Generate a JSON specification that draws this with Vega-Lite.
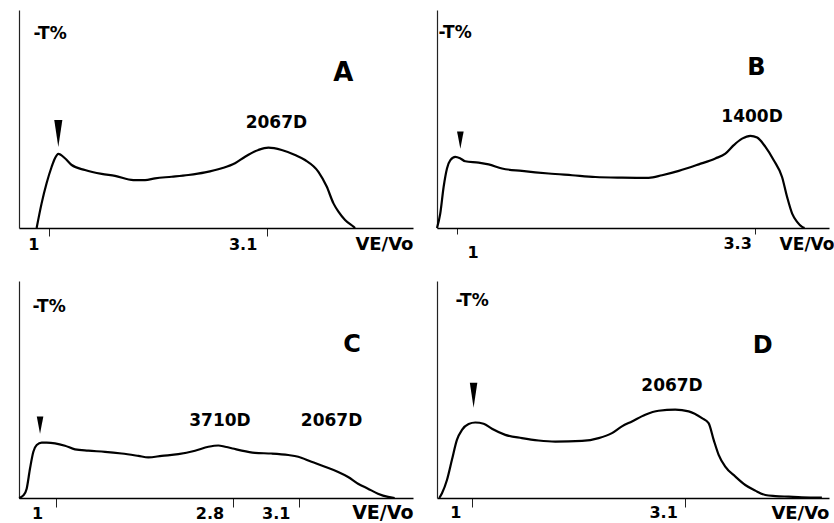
{
  "$schema": "https://vega.github.io/schema/vega-lite/v6.json",
  "background": "white",
  "padding": {"left": 14, "top": 10, "right": 2, "bottom": 0},
  "bounds": "flush",
  "columns": 2,
  "spacing": {"row": 53, "column": 24},
  "config": {
    "view": {"stroke": null},
    "font": "DejaVu Sans",
    "axis": {"labelFont": "DejaVu Sans", "titleFont": "DejaVu Sans", "labelFontWeight": "bold", "titleFontWeight": "bold", "labelColor": "black", "titleColor": "black", "grid": false, "domainColor": "black", "tickColor": "#222", "labelOverlap": false, "labelFlush": false},
    "text": {"font": "DejaVu Sans", "fontWeight": "bold", "color": "black"}
  },
  "datasets": {
    "curveA": [
      {"ve": 0.881, "t": 0}, {"ve": 0.929, "t": 11.3}, {"ve": 0.977, "t": 20.5}, {"ve": 1.026, "t": 28.1}, {"ve": 1.058, "t": 32.0}, {"ve": 1.09, "t": 34.0}, {"ve": 1.154, "t": 32.0}, {"ve": 1.219, "t": 28.9}, {"ve": 1.347, "t": 26.6}, {"ve": 1.508, "t": 24.8}, {"ve": 1.637, "t": 23.9}, {"ve": 1.814, "t": 22.0}, {"ve": 1.926, "t": 22.0}, {"ve": 2.023, "t": 22.8}, {"ve": 2.183, "t": 23.5}, {"ve": 2.344, "t": 24.3}, {"ve": 2.505, "t": 25.5}, {"ve": 2.666, "t": 27.4}, {"ve": 2.794, "t": 29.7}, {"ve": 2.891, "t": 32.7}, {"ve": 3.019, "t": 35.8}, {"ve": 3.116, "t": 36.9}, {"ve": 3.244, "t": 35.8}, {"ve": 3.373, "t": 33.5}, {"ve": 3.469, "t": 31.2}, {"ve": 3.598, "t": 25.8}, {"ve": 3.678, "t": 19.0}, {"ve": 3.743, "t": 11.3}, {"ve": 3.791, "t": 7.5}, {"ve": 3.855, "t": 3.7}, {"ve": 3.936, "t": 0.6}, {"ve": 3.952, "t": 0}
    ],
    "curveB": [
      {"ve": 0.846, "t": 0}, {"ve": 0.871, "t": 6.6}, {"ve": 0.897, "t": 18.8}, {"ve": 0.923, "t": 27.3}, {"ve": 0.949, "t": 31.1}, {"ve": 0.987, "t": 32.6}, {"ve": 1.026, "t": 31.9}, {"ve": 1.064, "t": 30.6}, {"ve": 1.167, "t": 30.0}, {"ve": 1.244, "t": 29.2}, {"ve": 1.347, "t": 27.3}, {"ve": 1.501, "t": 26.2}, {"ve": 1.707, "t": 25.0}, {"ve": 1.887, "t": 24.2}, {"ve": 2.067, "t": 23.4}, {"ve": 2.272, "t": 23.1}, {"ve": 2.478, "t": 23.0}, {"ve": 2.581, "t": 24.2}, {"ve": 2.71, "t": 26.2}, {"ve": 2.864, "t": 29.2}, {"ve": 2.992, "t": 31.9}, {"ve": 3.069, "t": 34.1}, {"ve": 3.134, "t": 38.0}, {"ve": 3.198, "t": 41.0}, {"ve": 3.262, "t": 42.3}, {"ve": 3.314, "t": 41.5}, {"ve": 3.378, "t": 37.2}, {"ve": 3.442, "t": 31.1}, {"ve": 3.506, "t": 23.4}, {"ve": 3.545, "t": 14.2}, {"ve": 3.584, "t": 6.6}, {"ve": 3.622, "t": 2.8}, {"ve": 3.661, "t": 0.5}, {"ve": 3.68, "t": 0}
    ],
    "curveC": [
      {"ve": 0.627, "t": 0}, {"ve": 0.671, "t": 1.2}, {"ve": 0.705, "t": 4.3}, {"ve": 0.739, "t": 13.6}, {"ve": 0.773, "t": 21.3}, {"ve": 0.807, "t": 24.4}, {"ve": 0.858, "t": 25.5}, {"ve": 0.908, "t": 25.5}, {"ve": 0.993, "t": 25.2}, {"ve": 1.095, "t": 24.1}, {"ve": 1.197, "t": 22.4}, {"ve": 1.332, "t": 21.8}, {"ve": 1.502, "t": 21.3}, {"ve": 1.671, "t": 20.5}, {"ve": 1.841, "t": 19.4}, {"ve": 1.942, "t": 18.7}, {"ve": 2.078, "t": 19.4}, {"ve": 2.247, "t": 20.2}, {"ve": 2.417, "t": 21.8}, {"ve": 2.553, "t": 23.6}, {"ve": 2.654, "t": 24.2}, {"ve": 2.722, "t": 23.6}, {"ve": 2.8, "t": 22.8}, {"ve": 2.841, "t": 21.8}, {"ve": 2.901, "t": 20.8}, {"ve": 2.976, "t": 20.5}, {"ve": 3.052, "t": 19.8}, {"ve": 3.097, "t": 19.0}, {"ve": 3.157, "t": 16.7}, {"ve": 3.218, "t": 14.4}, {"ve": 3.278, "t": 12.0}, {"ve": 3.323, "t": 9.7}, {"ve": 3.368, "t": 6.6}, {"ve": 3.413, "t": 4.3}, {"ve": 3.458, "t": 2.0}, {"ve": 3.504, "t": 0.5}, {"ve": 3.534, "t": 0}
    ],
    "curveD": [
      {"ve": 0.678, "t": 0}, {"ve": 0.705, "t": 2.2}, {"ve": 0.754, "t": 8.3}, {"ve": 0.803, "t": 17.6}, {"ve": 0.852, "t": 26.8}, {"ve": 0.902, "t": 31.4}, {"ve": 0.967, "t": 34.1}, {"ve": 1.033, "t": 34.8}, {"ve": 1.115, "t": 34.2}, {"ve": 1.197, "t": 31.9}, {"ve": 1.328, "t": 29.1}, {"ve": 1.492, "t": 27.6}, {"ve": 1.656, "t": 26.5}, {"ve": 1.82, "t": 26.0}, {"ve": 2.083, "t": 26.3}, {"ve": 2.247, "t": 27.6}, {"ve": 2.378, "t": 29.9}, {"ve": 2.476, "t": 33.0}, {"ve": 2.575, "t": 35.3}, {"ve": 2.706, "t": 38.4}, {"ve": 2.837, "t": 40.2}, {"ve": 3.001, "t": 40.7}, {"ve": 3.133, "t": 39.9}, {"ve": 3.264, "t": 36.8}, {"ve": 3.329, "t": 34.5}, {"ve": 3.379, "t": 26.8}, {"ve": 3.428, "t": 19.9}, {"ve": 3.493, "t": 14.5}, {"ve": 3.592, "t": 9.9}, {"ve": 3.69, "t": 6.0}, {"ve": 3.789, "t": 3.4}, {"ve": 3.887, "t": 1.4}, {"ve": 3.986, "t": 0.9}, {"ve": 4.117, "t": 0.6}, {"ve": 4.248, "t": 0.3}, {"ve": 4.444, "t": 0.2}
    ],
    "peaksA": [{"ve": 3.193, "t": 48.2, "label": "2067D"}],
    "peaksB": [{"ve": 3.275, "t": 50.7, "label": "1400D"}],
    "peaksC": [{"ve": 2.671, "t": 35.6, "label": "3710D"}, {"ve": 3.248, "t": 35.6, "label": "2067D"}],
    "peaksD": [{"ve": 2.969, "t": 51.5, "label": "2067D"}],
    "panelA": [{"ve": 3.839, "t": 71.3, "label": "A"}],
    "panelB": [{"ve": 3.308, "t": 73.2, "label": "B"}],
    "panelC": [{"ve": 3.341, "t": 70.7, "label": "C"}],
    "panelD": [{"ve": 3.861, "t": 70.0, "label": "D"}],
    "voidA": [{"ve": 1.09, "t": 43.4}],
    "voidB": [{"ve": 1.026, "t": 40.3}],
    "voidC": [{"ve": 0.841, "t": 33.6}],
    "voidD": [{"ve": 1.016, "t": 47.3}]
  },
  "concat": [
    {
      "width": 394, "height": 218,
      "encoding": {
        "x": {"field": "ve", "type": "quantitative", "scale": {"domain": [0.711, 4.51], "nice": false, "zero": false},
          "axis": {"values": [1, 3.1], "labelExpr": "'' + datum.value", "labelAlign": "right", "labelOffset": -10, "labelBaseline": "top", "labelPadding": 0, "labelFontSize": 16, "tickSize": 8, "tickWidth": 1, "domainWidth": 1.6, "title": "VE/Vo", "titleFontSize": 18, "titleAnchor": "end", "titleAlign": "right", "titleBaseline": "alphabetic", "titleX": 394, "titleY": 21}},
        "y": {"field": "t", "type": "quantitative", "scale": {"domain": [0, 100], "nice": false},
          "axis": {"title": "-T%", "titleAngle": 0, "titleAlign": "left", "titleBaseline": "middle", "titleX": 14, "titleY": 23, "titleFontSize": 17, "labels": false, "ticks": false, "domainWidth": 1.2, "domainColor": "#222"}}
      },
      "layer": [
        {"data": {"name": "curveA"}, "mark": {"type": "line", "color": "black", "strokeWidth": 2.2, "interpolate": "monotone"}},
        {"data": {"name": "peaksA"}, "mark": {"type": "text", "fontSize": 17}, "encoding": {"text": {"field": "label"}}},
        {"data": {"name": "panelA"}, "mark": {"type": "text", "fontSize": 26}, "encoding": {"text": {"field": "label"}}},
        {"data": {"name": "voidA"}, "mark": {"type": "point", "shape": "M-0.3,-1L0.3,-1L0,1Z", "size": 729, "filled": true, "color": "black", "opacity": 1}}
      ]
    },
    {
      "width": 392, "height": 218,
      "encoding": {
        "x": {"field": "ve", "type": "quantitative", "scale": {"domain": [0.846, 3.868], "nice": false, "zero": false},
          "axis": {"values": [1, 3.3], "labelExpr": "'' + datum.value",
            "labelAlign": {"condition": {"test": "datum.value == 1", "value": "left"}, "value": "right"},
            "labelOffset": {"condition": {"test": "datum.value == 1", "value": 10}, "value": -4},
            "labelPadding": {"condition": {"test": "datum.value == 1", "value": 10}, "value": 1},
            "labelBaseline": "top", "labelFontSize": 16, "tickSize": 6, "tickWidth": 1, "domainWidth": 1.6, "title": "VE/Vo", "titleFontSize": 17, "titleAnchor": "end", "titleAlign": "right", "titleBaseline": "alphabetic", "titleX": 397, "titleY": 21}},
        "y": {"field": "t", "type": "quantitative", "scale": {"domain": [0, 100], "nice": false},
          "axis": {"title": "-T%", "titleAngle": 0, "titleAlign": "left", "titleBaseline": "middle", "titleX": 1, "titleY": 22, "titleFontSize": 17, "labels": false, "ticks": false, "domainWidth": 1.2, "domainColor": "#222"}}
      },
      "layer": [
        {"data": {"name": "curveB"}, "mark": {"type": "line", "color": "black", "strokeWidth": 2.2, "interpolate": "monotone"}},
        {"data": {"name": "peaksB"}, "mark": {"type": "text", "fontSize": 17}, "encoding": {"text": {"field": "label"}}},
        {"data": {"name": "panelB"}, "mark": {"type": "text", "fontSize": 24}, "encoding": {"text": {"field": "label"}}},
        {"data": {"name": "voidB"}, "mark": {"type": "point", "shape": "M-0.38,-1L0.38,-1L0,1Z", "size": 300, "filled": true, "color": "black", "opacity": 1}}
      ]
    },
    {
      "width": 394, "height": 217,
      "encoding": {
        "x": {"field": "ve", "type": "quantitative", "scale": {"domain": [0.627, 2.8, 3.617], "range": [0, 213.7, 394], "nice": false, "zero": false},
          "axis": {"values": [1, 2.8, 3.1], "labelExpr": "'' + datum.value", "labelAlign": "right",
            "labelOffset": {"condition": {"test": "datum.value == 1", "value": -13}, "value": -9},
            "labelBaseline": "top", "labelPadding": -2, "labelFontSize": 16, "tickSize": 9, "tickWidth": 1, "domainWidth": 1.6, "title": "VE/Vo", "titleFontSize": 19, "titleAnchor": "end", "titleAlign": "right", "titleBaseline": "alphabetic", "titleX": 394, "titleY": 20}},
        "y": {"field": "t", "type": "quantitative", "scale": {"domain": [0, 100], "nice": false},
          "axis": {"title": "-T%", "titleAngle": 0, "titleAlign": "left", "titleBaseline": "middle", "titleX": 13, "titleY": 25, "titleFontSize": 17, "labels": false, "ticks": false, "domainWidth": 1.2, "domainColor": "#222"}}
      },
      "layer": [
        {"data": {"name": "curveC"}, "mark": {"type": "line", "color": "black", "strokeWidth": 2.2, "interpolate": "monotone"}},
        {"data": {"name": "peaksC"}, "mark": {"type": "text", "fontSize": 17}, "encoding": {"text": {"field": "label"}}},
        {"data": {"name": "panelC"}, "mark": {"type": "text", "fontSize": 24}, "encoding": {"text": {"field": "label"}}},
        {"data": {"name": "voidC"}, "mark": {"type": "point", "shape": "M-0.38,-1L0.38,-1L0,1Z", "size": 300, "filled": true, "color": "black", "opacity": 1}}
      ]
    },
    {
      "width": 392, "height": 217,
      "encoding": {
        "x": {"field": "ve", "type": "quantitative", "scale": {"domain": [0.656, 4.514], "nice": false, "zero": false},
          "axis": {"values": [1, 3.1], "labelExpr": "'' + datum.value", "labelAlign": "right",
            "labelOffset": {"condition": {"test": "datum.value == 1", "value": -11}, "value": -8},
            "labelBaseline": "top", "labelPadding": -3, "labelFontSize": 16, "tickSize": 9, "tickWidth": 1, "domainWidth": 1.6, "title": "VE/Vo", "titleFontSize": 18, "titleAnchor": "end", "titleAlign": "right", "titleBaseline": "alphabetic", "titleX": 392, "titleY": 20}},
        "y": {"field": "t", "type": "quantitative", "scale": {"domain": [0, 100], "nice": false},
          "axis": {"title": "-T%", "titleAngle": 0, "titleAlign": "left", "titleBaseline": "middle", "titleX": 18, "titleY": 19, "titleFontSize": 17, "labels": false, "ticks": false, "domainWidth": 1.2, "domainColor": "#222"}}
      },
      "layer": [
        {"data": {"name": "curveD"}, "mark": {"type": "line", "color": "black", "strokeWidth": 2.2, "interpolate": "monotone"}},
        {"data": {"name": "peaksD"}, "mark": {"type": "text", "fontSize": 17}, "encoding": {"text": {"field": "label"}}},
        {"data": {"name": "panelD"}, "mark": {"type": "text", "fontSize": 24}, "encoding": {"text": {"field": "label"}}},
        {"data": {"name": "voidD"}, "mark": {"type": "point", "shape": "M-0.3,-1L0.3,-1L0,1Z", "size": 625, "filled": true, "color": "black", "opacity": 1}}
      ]
    }
  ]
}
